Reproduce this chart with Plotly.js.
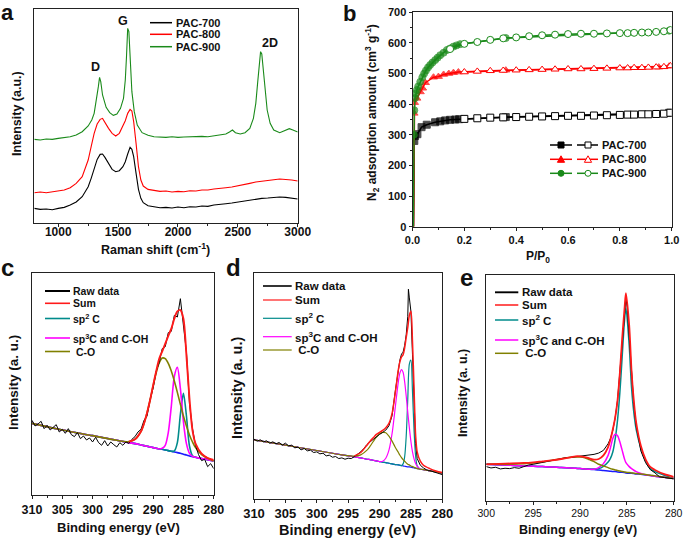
<!DOCTYPE html>
<html><head><meta charset="utf-8">
<script src="https://cdn.plot.ly/plotly-3.0.1.min.js"></script>
<style>html,body{margin:0;padding:0;background:#fff;}#chart{width:685px;height:543px;}</style>
</head><body><div id="chart"></div>
<script>
// ---------- Panel a : Raman ----------
const ramanX = [800,850,900,950,1000,1050,1100,1150,1200,1250,1275,1300,1325,1350,1370,1390,1420,1450,1480,1510,1540,1560,1580,1600,1615,1630,1650,1670,1690,1710,1750,1800,1850,1900,1950,2000,2050,2100,2150,2200,2250,2300,2350,2400,2450,2500,2550,2600,2650,2700,2750,2800,2850,2900,2950,3000];
const ramanPAC700 = [43,40,41,39,43,46,53,62,78,108,133,163,190,205,206,196,176,160,153,156,168,183,206,226,220,198,148,100,73,60,51,48,45,46,44,47,45,48,47,50,49,53,54,57,59,62,65,68,70,73,74,76,77,76,74,71];
const ramanPAC800 = [90,92,90,93,94,98,105,118,138,188,228,268,296,310,313,300,283,268,260,268,288,306,328,340,335,303,238,168,128,110,100,96,94,95,92,94,93,96,95,98,98,101,102,105,107,110,113,118,122,125,127,129,131,130,128,125];
const ramanX900 = [800,850,900,950,1000,1050,1100,1150,1200,1250,1280,1300,1320,1335,1345,1355,1370,1400,1430,1460,1490,1520,1545,1560,1570,1580,1590,1600,1615,1635,1660,1700,1750,1800,1850,1900,1950,2000,2050,2100,2150,2200,2250,2300,2350,2400,2430,2455,2480,2520,2560,2600,2630,2650,2665,2680,2690,2700,2710,2725,2745,2770,2800,2850,2900,2930,2960,3000];
const ramanPAC900 = [250,248,251,250,253,255,258,263,273,290,308,328,368,408,436,423,383,346,330,322,326,343,373,428,498,583,573,478,393,333,293,270,262,258,257,256,258,256,257,258,257,259,258,260,262,266,272,278,270,266,270,283,313,358,418,488,513,506,468,398,338,298,278,270,278,282,278,272];
const ramanPeakLabels = ["D","G","2D"];
const ramanPeakPos = [1307,1538,2769];
const ramanPeakInt = [468,606,540];
const ramanNames = ["PAC-700","PAC-800","PAC-900"];

// ---------- Panel b : N2 isotherms ----------
const adsP700 = [0.004,0.005,0.007,0.01,0.019,0.035,0.055,0.087,0.107,0.126,0.145,0.165,0.18,0.36,0.99];
const adsV700 = [0,180,280,296,302,325,333,341,344,347,349,350,351,358,372];
const desP = [0.2,0.25,0.3,0.35,0.4,0.45,0.5,0.55,0.6,0.65,0.7,0.75,0.8,0.83,0.855,0.885,0.91,0.94,0.97,0.995];
const desV700 = [352,354,356,357,358,359,360,361,362,362,363,364,365,366,366,367,367,368,369,372];
const adsP800 = [0.004,0.005,0.006,0.008,0.017,0.03,0.039,0.05,0.081,0.1,0.12,0.14,0.158,0.177,0.36,0.95,0.99];
const adsV800 = [0,200,370,405,419,440,452,470,488,490,497,500,503,505,511,521,524];
const desV800 = [505,507,509,510,511,512,513,514,515,515,516,517,518,518,519,519,520,521,522,525];
const adsP900 = [0.003,0.004,0.005,0.007,0.01,0.013,0.017,0.022,0.03,0.038,0.045,0.052,0.06,0.068,0.077,0.0875,0.097,0.107,0.12,0.133,0.145,0.158,0.17,0.184,0.36,0.99];
const adsV900 = [0,150,300,380,420,435,446,458,473,488,500,510,520,528,536,544,552,560,568,577,582,588,592,596,616,640];
const desP900 = [0.145,0.2,0.25,0.3,0.35,0.4,0.45,0.5,0.55,0.6,0.65,0.7,0.75,0.8,0.83,0.855,0.885,0.91,0.94,0.97,0.995];
const desV900 = [580,597,603,610,615,618,622,625,627,629,630,630,631,632,632,633,634,634,636,638,642];

// ---------- Panel c : XPS C1s PAC-700 ----------
const cE = [310,305,300,296,294,293,292,291.5,291,290.5,290,289.5,289,288.5,288,287.5,287,286.5,286,285.5,285,284.5,284,283.5,283,282,281,280];
const cBase = [216,196,179,165,158,155,151,149,147,145,143,141,139,138,136,134,132,130,128,126,123,121,118,116,114,110,107,103];
const cCO = [216,196,179,165,161,168,192,216,248,286,328,367,397,412,410,396,373,343,309,273,238,208,181,160,143,122,111,103];
const cSp3 = [216,196,179,165,158,155,151,149,147,145,143,141,139,141,150,188,267,357,384,320,221,155,126,117,114,110,107,103];
const cSp2 = [216,196,179,165,158,155,151,149,147,145,143,141,139,138,136,134,132,133,158,243,306,238,148,119,114,110,107,103];
const cSumE = [294,293,292,291.5,291,290.5,290,289.5,289,288.5,288,287.5,287,286.5,286,285.5,285,284.5,284,283.5,283,282,281,280];
const cSum = [161,168,192,216,248,286,330,372,410,432,455,478,500,530,552,556,530,420,290,195,155,125,112,106];
const cRawE = [310,309.5,309,308.5,308,307.5,307,306.5,306,305.5,305,304.5,304,303.5,303,302.5,302,301.5,301,300.5,300,299.5,299,298.5,298,297.5,297,296.5,296,295.5,295,294.5,294,293.5,293,292.5,292,291.5,291,290.5,290,289.5,289,288.5,288,287.5,287,286.5,286,285.5,285,284.5,284,283.5,283,282.5,282,281.5,281,280.5,280];
const cRaw = [225,208,214,222,200,210,196,205,212,190,198,186,200,182,176,188,170,178,166,172,160,174,158,150,164,148,160,152,145,158,150,160,156,168,176,190,198,225,238,288,322,372,398,440,446,488,492,540,535,590,515,430,275,200,150,122,104,108,86,95,80];

// ---------- Panel d : XPS C1s PAC-800 ----------
const dE = [310,305,300,296,294,293,292,291.5,291,290.5,290,289.5,289,288.5,288,287.5,287,286.75,286.5,286.25,286,285.75,285.5,285.25,285,284.75,284.5,284.25,284,283.5,283,282,281,280];
const dBase = [176,160,144,131,125,122,118,117,115,113,111,109,108,106,104,102,101,100,99,98,97,96,95,95,94,93,92,91,90,88,87,83,80,76];
const dCO = [176,160,144,131,127,131,145,157,171,184,194,198,197,187,172,154,138,130,123,117,112,107,103,101,98,96,94,92,90,88,87,83,80,76];
const dSp3 = [176,160,144,131,125,122,118,117,115,113,111,112,121,145,195,272,350,376,386,378,350,307,258,212,171,140,119,105,97,88,87,83,80,76];
const dSp2 = [176,160,144,131,125,122,118,117,115,113,111,109,108,106,104,102,101,100,99,104,125,187,298,402,414,320,203,128,98,88,87,83,80,76];
const dSumE = [294,293,292,291.5,291,290.5,290,289.5,289,288.5,288,287.5,287,286.75,286.5,286.25,286,285.75,285.5,285.25,285,284.75,284.5,284.25,284,283.5,283,282,281,280];
const dSum = [128,138,160,172,182,192,198,204,212,225,255,316,386,410,424,430,450,482,512,548,560,470,330,190,140,112,100,90,83,78];
const dRawE = [310,309.5,309,308.5,308,307.5,307,306.5,306,305.5,305,304.5,304,303.5,303,302.5,302,301.5,301,300.5,300,299.5,299,298.5,298,297.5,297,296.5,296,295.5,295,294.5,294,293.5,293,292.5,292,291.5,291,290.5,290,289.5,289,288.5,288,287.5,287,286.75,286.5,286.25,286,285.75,285.5,285.4,285.25,285,284.75,284.5,284.25,284,283.5,283,282.5,282,281.5,281,280.5,280];
const dRaw = [178,172,176,170,173,166,170,164,168,160,166,158,160,152,154,146,150,143,145,138,140,134,136,128,130,124,126,120,122,118,121,120,126,132,140,150,162,170,178,184,192,198,205,218,248,320,392,415,432,438,458,490,545,626,600,560,430,260,165,120,100,92,86,84,80,78,75,72];

// ---------- Panel e : XPS C1s PAC-900 ----------
const eE = [300,298,296,295,294,293,292,291,290.5,290,289.5,289,288.5,288,287.5,287,286.75,286.5,286.25,286,285.75,285.5,285.25,285.1,284.75,284.5,284.25,284,283.5,283,282.5,282,281,280];
const eBase = [110,108,105,104,103,102,100,99,98,97,96,95,94,93,91,90,89,88,88,87,86,86,85,84,83,83,82,81,80,78,76,74,71,67];
const eCO = [110,110,112,114,117,122,127,131,132,132,130,124,118,110,105,100,97,95,93,91,90,88,87,86,85,84,83,82,81,79,77,75,71,67];
const eSp3 = [110,108,105,104,103,102,100,99,98,97,96,95,95,100,112,137,160,188,201,197,178,152,126,115,103,97,92,88,82,78,76,74,71,67];
const eSp2 = [110,108,105,104,103,102,100,99,98,97,96,96,96,97,104,117,128,147,185,242,325,435,545,582,470,342,265,215,158,120,97,88,77,67];
const eSum = [110,112,114,116,119,122,126,131,134,134,132,128,124,126,137,162,185,215,250,302,385,490,580,627,530,392,300,235,165,125,102,93,80,72];
const eRawE = [300,299.5,299,298.5,298,297.5,297,296.5,296,295.5,295,294.5,294,293.5,293,292.5,292,291.5,291,290.5,290,289.5,289,288.5,288,287.5,287,286.75,286.5,286.25,286,285.75,285.5,285.25,285.1,284.95,284.75,284.5,284.25,284,283.5,283,282.5,282,281.5,281,280.5,280];
const eRaw = [103,99,101,96,98,97,100,98,103,108,110,113,115,118,122,125,127,130,131,133,134,135,137,140,144,152,172,188,212,250,302,385,480,570,612,580,500,382,290,225,150,115,94,84,72,70,67,66];

const xpsNames = ["Raw data","Sum","sp<sup>2</sup> C","sp<sup>3</sup>C and C-OH"," C-O"];
const xpsColors = {raw:"#000000", sum:"#ff1a1a", sp2:"#008b8b", sp3:"#ff00ff", co:"#808000", base:"#1a1aff"};

// ---------- build ----------
const W = 685, H = 543;
const F = "Liberation Sans, Arial, sans-serif";
const px = x => x / W, py = y => 1 - y / H;
const boxes = {
  a:[34.3,9,297.7,222.7], b:[412.5,12.3,671.7,226.7],
  c:[32,272.7,213.7,495.3], d:[254,272.5,442.3,498.7], e:[486.3,275,673.7,500.7]
};
const dom = k => ({x:[px(boxes[k][0]), px(boxes[k][2])], y:[py(boxes[k][3]), py(boxes[k][1])]});

const traces = [];
function line(x, y, ax, color, width, shape) {
  traces.push({x, y, xaxis:'x'+ax, yaxis:'y'+ax, mode:'lines', showlegend:false, hoverinfo:'skip',
    line:{color, width, shape: shape||'linear', smoothing: 0.8}});
}
// a
line(ramanX, ramanPAC700, '', '#000', 1.1);
line(ramanX, ramanPAC800, '', '#ff0000', 1.1);
line(ramanX900, ramanPAC900, '', '#1a8a1a', 1.1);
// b
function iso(x, y, color, symbol, filled) {
  traces.push({x, y, xaxis:'x2', yaxis:'y2', mode:'lines+markers', showlegend:false, hoverinfo:'skip',
    line:{color, width:1.5},
    marker:{symbol, size: filled ? y.map(v => v < 280 ? 0 : 7) : 7, color: filled ? color : '#fff',
            line:{color, width: 1}}});
}
iso(adsP700, adsV700, '#000', 'square', true);
iso(desP, desV700, '#000', 'square', false);
iso(adsP800, adsV800, '#ff0000', 'triangle-up', true);
iso(desP, desV800, '#ff0000', 'triangle-up', false);
iso(adsP900, adsV900, '#1a8a1a', 'circle', true);
iso(desP900, desV900, '#1a8a1a', 'circle', false);
// c, d, e
function xps(ax, E, base, sp2, sp3, co, rawE, raw, sumE, sum, w) {
  line(E, base, ax, xpsColors.base, w, 'spline');
  line(E, sp2, ax, xpsColors.sp2, w, 'spline');
  line(E, sp3, ax, xpsColors.sp3, w, 'spline');
  line(E, co, ax, xpsColors.co, w, 'spline');
  line(rawE, raw, ax, xpsColors.raw, 1, 'linear');
  line(sumE, sum, ax, xpsColors.sum, w + 0.3, 'spline');
}
xps('3', cE, cBase, cSp2, cSp3, cCO, cRawE, cRaw, cSumE, cSum, 1.6);
xps('4', dE, dBase, dSp2, dSp3, dCO, dRawE, dRaw, dSumE, dSum, 1.2);
xps('5', eE, eBase, eSp2, eSp3, eCO, eRawE, eRaw, eE, eSum, 1.5);

const axBase = {showline:true, linecolor:'#222', linewidth:1, mirror:true, zeroline:false, showgrid:false,
  ticks:'outside', ticklen:3, tickwidth:1, tickcolor:'#222', fixedrange:true};
const tf = (s, w) => ({family:F, size:s, color:'#111', weight: w || 'bold'});
const noY = {showticklabels:false, ticks:''};
const layout = {
  width:W, height:H, margin:{l:0,r:0,t:0,b:0}, paper_bgcolor:'#fff', plot_bgcolor:'#fff', showlegend:false,
  xaxis: Object.assign({}, axBase, {domain:dom('a').x, anchor:'y', range:[800,3000], tickmode:'linear', tick0:0, dtick:500,
    minor:{dtick:250, ticks:'outside', ticklen:2, tickcolor:'#222'}, tickfont:tf(12), ticklabelstandoff:-5}),
  yaxis: Object.assign({}, axBase, noY, {domain:dom('a').y, anchor:'x', range:[0,641]}),
  xaxis2: Object.assign({}, axBase, {domain:dom('b').x, anchor:'y2', range:[0,1], tickmode:'linear', tick0:0, dtick:0.2, tickformat:'.1f',
    minor:{dtick:0.1, ticks:'outside', ticklen:2, tickcolor:'#222'}, tickfont:tf(11)}),
  yaxis2: Object.assign({}, axBase, {domain:dom('b').y, anchor:'x2', range:[0,700], tickmode:'linear', tick0:0, dtick:100,
    minor:{dtick:50, ticks:'outside', ticklen:2, tickcolor:'#222'}, tickfont:tf(11)}),
  xaxis3: Object.assign({}, axBase, {domain:dom('c').x, anchor:'y3', range:[310,280], tickmode:'linear', tick0:0, dtick:5,
    minor:{dtick:2.5, ticks:'outside', ticklen:2, tickcolor:'#222'}, tickfont:tf(12.5)}),
  yaxis3: Object.assign({}, axBase, noY, {domain:dom('c').y, anchor:'x3', range:[0,668]}),
  xaxis4: Object.assign({}, axBase, {domain:dom('d').x, anchor:'y4', range:[310,280], tickmode:'linear', tick0:0, dtick:5,
    minor:{dtick:2.5, ticks:'outside', ticklen:2, tickcolor:'#222'}, tickfont:tf(13)}),
  yaxis4: Object.assign({}, axBase, noY, {domain:dom('d').y, anchor:'x4', range:[0,676]}),
  xaxis5: Object.assign({}, axBase, {domain:dom('e').x, anchor:'y5', range:[300,280], tickmode:'linear', tick0:0, dtick:5,
    minor:{dtick:2.5, ticks:'outside', ticklen:2, tickcolor:'#222'}, tickfont:tf(10.5,'normal')}),
  yaxis5: Object.assign({}, axBase, noY, {domain:dom('e').y, anchor:'x5', range:[0,682]}),
  annotations:[], shapes:[]
};
const A = (text, x, y, size, o) => { o = o || {};
  layout.annotations.push({text, xref:'paper', yref:'paper', x:px(x), y:py(y), xanchor:o.xa||'center', yanchor:'middle',
    showarrow:false, textangle:o.angle||0, font:{family:F, size, color:'#111', weight:o.w||'bold'}}); };
const L = (x0, x1, y, color, width) => layout.shapes.push({type:'line', xref:'paper', yref:'paper',
  x0:px(x0), x1:px(x1), y0:py(y), y1:py(y), line:{color, width}});

// panel letters
A('a', 7, 12.5, 22); A('b', 349, 13, 22); A('c', 8, 267, 24); A('d', 233, 267, 24); A('e', 466, 277, 24);
// axis titles
A('Intensity (a.u.)', 17, 114, 12.5, {angle:-90});
A('Raman shift (cm<sup>-1</sup>)', 155, 249, 12.5);
A('N<sub>2</sub> adsorption amount (cm<sup>3</sup> g<sup>-1</sup>)', 372, 113, 12, {angle:-90});
A('P/P<sub>0</sub>', 538, 257, 12);
A('Intensity (a. u.)', 13, 383, 13.5, {angle:-90});
A('Binding energy (eV)', 118, 527, 13);
A('Intensity (a. u.)', 237, 388, 14.5, {angle:-90});
A('Binding energy (eV)', 348, 530, 14.5);
A('Intensity (a. u.)', 463, 393, 12.5, {angle:-90});
A('Binding energy (eV)', 578, 530, 12.5);
// Raman peak labels (data coordinates)
ramanPeakLabels.forEach((t, i) => layout.annotations.push({text:t, xref:'x', yref:'y', x:ramanPeakPos[i], y:ramanPeakInt[i],
  showarrow:false, font:{family:F, size:12.5, color:'#111', weight:'bold'}}));
// legend a
const aCols = ['#000','#ff0000','#1a8a1a'], aRows = [22.7, 34.3, 46.7];
ramanNames.forEach((n, i) => { L(150, 172, aRows[i], aCols[i], 1.5); A(n, 174, aRows[i], 11, {xa:'left'}); });
// legend b
const bRows = [145, 159.3, 173.3];
ramanNames.forEach((n, i) => {
  const c = aCols[i], y = bRows[i];
  L(550, 572, y, c, 1.5); L(577, 598, y, c, 1.5);
  [[561, c], [588, '#fff']].forEach(([cx, fill]) => {
    const r = 3;
    if (i === 0) layout.shapes.push({type:'rect', xref:'paper', yref:'paper', x0:px(cx-r), x1:px(cx+r), y0:py(y+r), y1:py(y-r), fillcolor:fill, line:{color:c, width:1}});
    if (i === 1) layout.shapes.push({type:'path', xref:'paper', yref:'paper',
      path:`M ${px(cx-3.6)} ${py(y+3)} L ${px(cx+3.6)} ${py(y+3)} L ${px(cx)} ${py(y-3.5)} Z`, fillcolor:fill, line:{color:c, width:1}});
    if (i === 2) layout.shapes.push({type:'circle', xref:'paper', yref:'paper', x0:px(cx-r), x1:px(cx+r), y0:py(y+r), y1:py(y-r), fillcolor:fill, line:{color:c, width:1}});
  });
  A(n, 600, y, 11, {xa:'left'});
});
// legends c, d, e
const xCols = [xpsColors.raw, xpsColors.sum, xpsColors.sp2, xpsColors.sp3, xpsColors.co];
function xleg(x0, x1, tx, rows, size, w) {
  xpsNames.forEach((n, i) => { L(x0, x1, rows[i], xCols[i], i === 0 ? w + 0.4 : w); A(n, tx, rows[i], size, {xa:'left'}); });
}
xleg(45, 70, 71, [291, 303.3, 318.5, 338, 351.5], 10.5, 1.6);
xleg(263, 291.7, 293, [286, 300, 318.3, 336.7, 350], 11.5, 1.2);
xleg(495, 518.3, 520, [292.3, 305, 320, 340, 353.3], 11.5, 1.5);

Plotly.newPlot('chart', traces, layout, {displayModeBar:false, staticPlot:true});
</script></body></html>
